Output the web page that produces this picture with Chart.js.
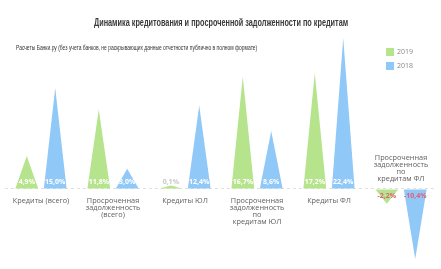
<!DOCTYPE html>
<html>
<head>
<meta charset="utf-8">
<script src="https://cdn.jsdelivr.net/npm/chart.js@4.4.1/dist/chart.umd.min.js"></script>
<style>
  html, body { margin: 0; padding: 0; background: #fff; }
  #wrap { position: relative; width: 441px; height: 269px; overflow: hidden; }
  #title {
    position: absolute; left: 0; width: 441px; top: 15px; text-align: center;
    font-family: 'Liberation Sans', sans-serif; font-weight: bold;
    font-size: 11.5px; color: #3a3a3a; line-height: 14px; white-space: nowrap;
    transform: scaleX(0.635); transform-origin: 222px 0;
  }
  #subtitle {
    position: absolute; left: 16px; top: 44px;
    font-family: 'Liberation Sans', sans-serif;
    font-size: 6.5px; color: #333; line-height: 8px; white-space: nowrap;
    transform: scaleX(0.76); transform-origin: 0 0;
  }
  #legend { position: absolute; left: 386px; top: 47px; font-family: 'Open Sans', sans-serif; font-size: 7px; color: #888; }
  #legend div { height: 14px; line-height: 10px; white-space: nowrap; }
  #legend span { display: inline-block; width: 8px; height: 8px; vertical-align: middle; margin-right: 3px; }
  canvas { position: absolute; left: 0; top: 0; }
</style>
</head>
<body>
<div id="wrap">
  <canvas id="chart" width="441" height="269"></canvas>
  <div id="title">Динамика кредитования и просроченной задолженности по кредитам</div>
  <div id="subtitle">Расчеты Банки.ру (без учета банков, не раскрывающих данные отчетности публично в полном формате)</div>
  <div id="legend"></div>
</div>
<script>
// категории (многострочные подписи)
var categories = [
  ['Кредиты (всего)'],
  ['Просроченная', 'задолженность', '(всего)'],
  ['Кредиты ЮЛ'],
  ['Просроченная', 'задолженность', 'по', 'кредитам ЮЛ'],
  ['Кредиты ФЛ'],
  ['Просроченная', 'задолженность', 'по', 'кредитам ФЛ']
];
var values2019 = [4.9, 11.8, 0.1, 16.7, 17.2, -2.2];
var values2018 = [15.0, 3.0, 12.4, 8.6, 22.4, -10.4];
var seriesNames = ['2019', '2018'];
var seriesColors = ['#b5e48c', '#90c8f8'];

function fmt(v) {
  return v.toFixed(1).replace('.', ',') + '%';
}

// рисуем столбцы треугольниками
var trianglePlugin = {
  id: 'triangles',
  beforeDatasetDraw: function (chart, args) {
    var ctx = chart.ctx;
    var color = chart.data.datasets[args.index].backgroundColor;
    ctx.save();
    ctx.fillStyle = color;
    args.meta.data.forEach(function (bar) {
      var top = bar.y;
      if (Math.abs(bar.base - top) < 3) top = bar.base - 3;
      ctx.beginPath();
      ctx.moveTo(bar.x - bar.width / 2, bar.base);
      ctx.lineTo(bar.x + bar.width / 2, bar.base);
      ctx.lineTo(bar.x, top);
      ctx.closePath();
      ctx.fill();
    });
    ctx.restore();
    return false;
  },
  afterDraw: function (chart) {
    var ctx = chart.ctx;
    var y0 = chart.scales.y.getPixelForValue(0);
    ctx.save();
    ctx.textAlign = 'center';
    ctx.textBaseline = 'middle';
    // подписи значений
    ctx.font = 'bold 7px "Open Sans", sans-serif';
    chart.data.datasets.forEach(function (ds, di) {
      chart.getDatasetMeta(di).data.forEach(function (bar, i) {
        var v = ds.data[i];
        if (v < 0) {
          ctx.fillStyle = '#e0607a';
          ctx.fillText(fmt(v), bar.x, y0 + 7);
        } else {
          ctx.fillStyle = (y0 - bar.y) < 10 ? '#c8c8c8' : '#ffffff';
          ctx.fillText(fmt(v), bar.x, y0 - 7);
        }
      });
    });
    // подписи категорий
    ctx.font = '7.3px "Open Sans", sans-serif';
    ctx.fillStyle = '#606060';
    var xs = chart.scales.x;
    categories.forEach(function (lines, i) {
      var x = xs.getPixelForValue(i);
      var neg = values2019[i] < 0 && values2018[i] < 0;
      lines.forEach(function (ln, k) {
        var y = neg ? y0 - 10 - (lines.length - 1 - k) * 7 : y0 + 12 + k * 7;
        ctx.fillText(ln, x, y);
      });
    });
    ctx.restore();
  }
};

var chart = new Chart(document.getElementById('chart').getContext('2d'), {
  type: 'bar',
  data: {
    labels: categories.map(function (c) { return c.join(' '); }),
    datasets: [
      { label: seriesNames[0], data: values2019, backgroundColor: seriesColors[0] },
      { label: seriesNames[1], data: values2018, backgroundColor: seriesColors[1] }
    ]
  },
  options: {
    responsive: false,
    animation: false,
    devicePixelRatio: 1,
    layout: { padding: { top: 34, bottom: 6, left: 5, right: 4 } },
    categoryPercentage: 0.79,
    barPercentage: 0.8,
    plugins: {
      legend: { display: false },
      tooltip: { enabled: false }
    },
    scales: {
      x: { display: false },
      y: {
        min: -11,
        max: 23,
        ticks: { display: false, stepSize: 1 },
        border: { display: false, dash: [3, 3] },
        grid: {
          drawTicks: false,
          color: function (c) { return c.tick && c.tick.value === 0 ? '#e0e0e0' : 'rgba(0,0,0,0)'; }
        }
      }
    }
  },
  plugins: [trianglePlugin]
});

// легенда
var lg = document.getElementById('legend');
seriesNames.forEach(function (n, i) {
  var d = document.createElement('div');
  d.innerHTML = '<span style="background:' + seriesColors[i] + '"></span>' + n;
  lg.appendChild(d);
});
</script>
</body>
</html>
